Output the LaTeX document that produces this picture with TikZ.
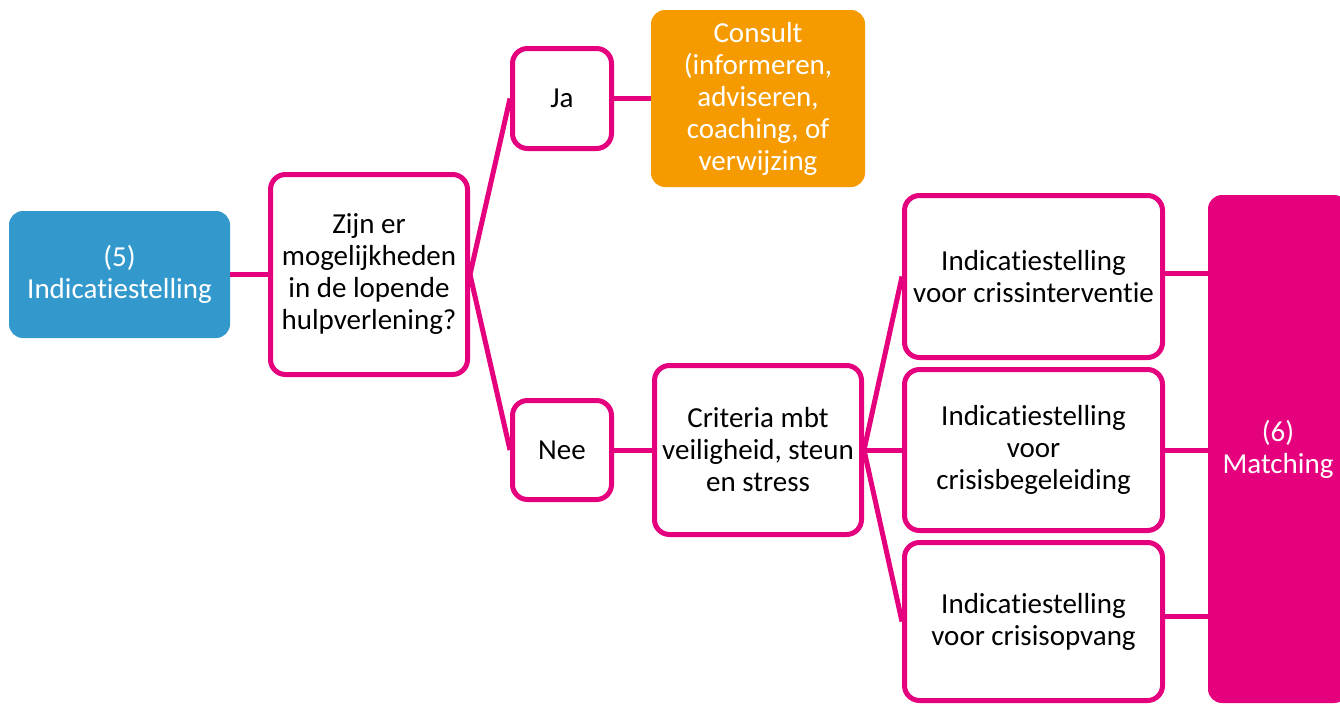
\documentclass[tikz,border=0pt]{standalone}
\usepackage{fontspec}
\setmainfont{Carlito}[Ligatures={NoCommon}]
\definecolor{pk}{HTML}{E5007E}
\definecolor{bl}{HTML}{3399CC}
\definecolor{og}{HTML}{F59B00}
\begin{document}
\begin{tikzpicture}[x=1pt,y=-1pt,
  every node/.style={font=\fontsize{29}{32}\selectfont, align=center, inner sep=0pt},
  pbox/.style={draw=pk, line width=5pt, rounded corners=15pt, fill=white, text=black},
  fbox/.style={rounded corners=14pt, text=white},
  conn/.style={draw=pk, line width=5pt}]
\useasboundingbox (0,0) rectangle (1340,704);
\clip (0,0) rectangle (1340,704);
\node[fbox, fill=bl, minimum width=221pt, minimum height=127pt] (ind) at (119.5,274.5) {(5)\\Indicatiestelling};
\node[pbox, minimum width=197pt, minimum height=200pt] (q) at (369,274.5) {Zijn er\\mogelijkheden\\in de lopende\\hulpverlening?};
\node[pbox, minimum width=99pt, minimum height=100pt] (ja) at (562,98.5) {Ja};
\node[fbox, fill=og, minimum width=214pt, minimum height=177pt] (cons) at (758,98.5) {Consult\\(informeren,\\adviseren,\\coaching, of\\verwijzing};
\node[pbox, minimum width=99pt, minimum height=99pt] (nee) at (562,450) {Nee};
\node[pbox, minimum width=207pt, minimum height=169pt] (crit) at (758,450) {Criteria mbt\\veiligheid, steun\\en stress};
\node[pbox, minimum width=258pt, minimum height=162pt] (i1) at (1033.5,276.5) {Indicatiestelling\\voor crissinterventie};
\node[pbox, minimum width=258pt, minimum height=161pt] (i2) at (1033.5,450) {Indicatiestelling\\voor\\crisisbegeleiding};
\node[pbox, minimum width=258pt, minimum height=158pt] (i3) at (1033.5,621.5) {Indicatiestelling\\voor crisisopvang};
\node[fbox, fill=pk, minimum width=140pt, minimum height=508pt] (m) at (1278,449) {(6)\\Matching};
\draw[conn] (ind.east) -- (q.west);
\draw[conn] (q.east) -- (ja.west);
\draw[conn] (q.east) -- (nee.west);
\draw[conn] (ja.east) -- (cons.west);
\draw[conn] (nee.east) -- (crit.west);
\draw[conn] (crit.east) -- (i1.west);
\draw[conn] (crit.east) -- (i2.west);
\draw[conn] (crit.east) -- (i3.west);
\draw[conn] ([yshift=3pt]i1.east) -- ([yshift=3pt]i1.east -| m.west);
\draw[conn] (i2.east) -- (i2.east -| m.west);
\draw[conn] ([yshift=5pt]i3.east) -- ([yshift=5pt]i3.east -| m.west);
\end{tikzpicture}
\end{document}
